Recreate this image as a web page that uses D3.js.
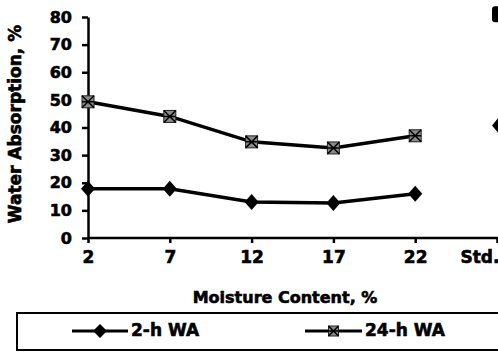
<!DOCTYPE html>
<html>
<head>
<meta charset="utf-8">
<script src="https://cdn.jsdelivr.net/npm/d3@7"></script>
<style>
  body { margin: 0; background: #fff; }
  text { font-family: "DejaVu Sans", sans-serif; font-weight: bold; fill: #000; stroke: #000; stroke-width: 0.6px; }
</style>
</head>
<body>
<div id="cont"></div>
<script>
// moisture content categories
var categories = ["2", "7", "12", "17", "22", "Std."];
// water absorption, %
var wa2h = [17.8, 17.8, 13.0, 12.7, 16.0];
var wa24h = [49.3, 44.0, 34.8, 32.6, 37.0];
// std. markers (cut at the right edge)
var std2h = 40.7;
var std24h = 81;
var yTicks = [0, 10, 20, 30, 40, 50, 60, 70, 80];
var seriesNames = ["2-h WA", "24-h WA"];

var W = 498, H = 354;

var svg = d3.select("#cont").append("svg")
  .attr("width", W)
  .attr("height", H);

var x = d3.scalePoint().domain(categories).range([88, 497]);
var y = d3.scaleLinear().domain([0, 80]).range([238, 17]);

// y axis
var yAxis = svg.append("g")
  .attr("transform", "translate(" + x.range()[0] + ",0)")
  .call(d3.axisLeft(y).tickValues(yTicks).tickSize(6).tickPadding(10).tickSizeOuter(0));
yAxis.select(".domain").attr("stroke-width", 2.5);
yAxis.selectAll(".tick line").attr("stroke-width", 2.5);
yAxis.selectAll("text").style("font-size", "16px");

// x axis
var xAxis = svg.append("g")
  .attr("transform", "translate(0," + y(0) + ")")
  .call(d3.axisBottom(x).tickSize(5).tickPadding(8).tickSizeOuter(0));
xAxis.select(".domain").remove();
xAxis.append("line")
  .attr("x1", x.range()[0]).attr("x2", W + 10)
  .attr("stroke", "#000").attr("stroke-width", 2.5);
xAxis.selectAll(".tick line").attr("stroke-width", 2.5);
xAxis.selectAll("text")
  .style("font-size", "17px")
  .attr("text-anchor", function(d) { return d == "Std." ? "end" : "middle"; })
  .attr("dx", function(d) { return d == "Std." ? 2 : 0; });

// titles
svg.append("text")
  .attr("transform", "translate(16,124) rotate(-90)")
  .attr("text-anchor", "middle")
  .attr("dominant-baseline", "middle")
  .style("font-size", "17px")
  .text("Water Absorption, %");

svg.append("text")
  .attr("x", 285).attr("y", 303)
  .attr("text-anchor", "middle")
  .style("font-size", "16px")
  .text("Moisture Content, %");

var line = d3.line()
  .x(function(d, i) { return x(categories[i]); })
  .y(function(d) { return y(d); });

function diamond(g, cx, cy, rx, ry) {
  g.append("path")
    .attr("d", "M" + (cx - rx) + "," + cy + "L" + cx + "," + (cy - ry) +
      "L" + (cx + rx) + "," + cy + "L" + cx + "," + (cy + ry) + "Z")
    .attr("fill", "#000");
}

function starSquare(g, cx, cy, s) {
  g.append("rect")
    .attr("x", cx - s).attr("y", cy - s)
    .attr("width", s * 2).attr("height", s * 2)
    .attr("fill", "#8a8a8a").attr("stroke", "#222").attr("stroke-width", 1);
  g.append("path")
    .attr("d", "M" + (cx - s) + "," + (cy - s) + "L" + (cx + s) + "," + (cy + s) +
      "M" + (cx + s) + "," + (cy - s) + "L" + (cx - s) + "," + (cy + s) +
      "M" + (cx - s) + "," + cy + "L" + (cx + s) + "," + cy)
    .attr("stroke", "#000").attr("stroke-width", 1.5);
}

// 24-h line
svg.append("path")
  .datum(wa24h)
  .attr("d", line)
  .attr("fill", "none").attr("stroke", "#000").attr("stroke-width", 3.5);
var g24 = svg.append("g");
wa24h.forEach(function(d, i) { starSquare(g24, x(categories[i]), y(d), 6); });

// 2-h line
svg.append("path")
  .datum(wa2h)
  .attr("d", line)
  .attr("fill", "none").attr("stroke", "#000").attr("stroke-width", 3.5);
var g2 = svg.append("g");
wa2h.forEach(function(d, i) { diamond(g2, x(categories[i]), y(d), 7, 8); });

// std markers
var gs = svg.append("g");
diamond(gs, x("Std.") + 5, y(std2h), 10, 12);
gs.append("rect")
  .attr("x", x("Std.") - 5).attr("y", y(std24h) - 8)
  .attr("width", 16).attr("height", 16)
  .attr("rx", 3)
  .attr("fill", "#000");

// legend
var leg = svg.append("g");
leg.append("rect")
  .attr("x", 17).attr("y", 313)
  .attr("width", 500).attr("height", 37)
  .attr("fill", "none").attr("stroke", "#000").attr("stroke-width", 2);

var legItems = [
  { x0: 72, x1: 128 },
  { x0: 305, x1: 362 }
];
seriesNames.forEach(function(name, i) {
  var it = legItems[i];
  var cy = 331;
  leg.append("line")
    .attr("x1", it.x0).attr("x2", it.x1)
    .attr("y1", cy).attr("y2", cy)
    .attr("stroke", "#000").attr("stroke-width", 3);
  if (i == 0) diamond(leg, (it.x0 + it.x1) / 2, cy, 7, 7);
  else starSquare(leg, (it.x0 + it.x1) / 2, cy, 5);
  leg.append("text")
    .attr("x", it.x1 + 3).attr("y", cy)
    .attr("dominant-baseline", "middle")
    .style("font-size", "17px")
    .text(name);
});
</script>
</body>
</html>
